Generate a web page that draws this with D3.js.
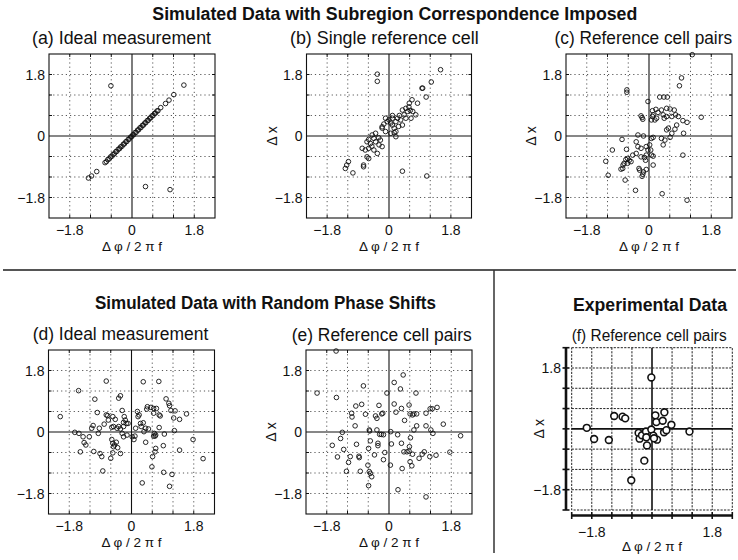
<!DOCTYPE html>
<html><head><meta charset="utf-8">
<script src="https://cdn.jsdelivr.net/npm/d3@7"></script>
<style>body{margin:0;background:#fff}</style>
</head><body>
<svg id="chart" width="738" height="560" xmlns="http://www.w3.org/2000/svg"></svg>
<script>
// ---------------- DATA ----------------
const axisDomain = [-2.4, 2.4];
const gridValues = [-1.8, -1.2, -0.6, 0.6, 1.2, 1.8];
const fTickValues = [-2.4, -1.8, -1.2, -0.6, 0, 0.6, 1.2, 1.8, 2.4];
const tickValues = [-1.8, 0, 1.8];
const tickLabels = ["\u22121.8", "0", "1.8"];

const mainTitle1 = "Simulated Data with Subregion Correspondence Imposed";
const mainTitle2 = "Simulated Data with Random Phase Shifts";
const mainTitle3 = "Experimental Data";
const panelTitles = ["(a) Ideal measurement", "(b) Single reference cell", "(c) Reference cell pairs",
                     "(d) Ideal measurement", "(e) Reference cell pairs", "(f) Reference cell pairs"];
const xAxisLabel = "\u0394 \u03c6 / 2 \u03c0 f";
const yAxisLabel = "\u0394 x";

const dataA = [
  [-0.61,1.47],[1.50,1.49],[0.39,-1.48],[1.10,-1.57],
  [-1.26,-1.23],[-1.17,-1.17],[-1.02,-1.04],[-0.78,-0.78],
  [-0.74,-0.75],[-0.70,-0.69],[-0.66,-0.67],[-0.62,-0.61],[-0.58,-0.59],[-0.55,-0.54],[-0.51,-0.52],
  [-0.47,-0.46],[-0.44,-0.45],[-0.40,-0.39],[-0.36,-0.37],[-0.33,-0.32],[-0.29,-0.30],[-0.25,-0.24],
  [-0.22,-0.23],[-0.18,-0.17],[-0.15,-0.16],[-0.11,-0.10],[-0.08,-0.09],[-0.04,-0.03],[-0.01,-0.02],
  [0.02,0.03],[0.05,0.04],[0.09,0.10],[0.12,0.11],[0.16,0.17],[0.19,0.18],[0.23,0.24],[0.26,0.25],
  [0.30,0.31],[0.33,0.32],[0.37,0.38],[0.40,0.39],[0.44,0.45],[0.47,0.46],[0.51,0.52],[0.54,0.53],
  [0.58,0.59],[0.61,0.60],[0.65,0.66],[0.68,0.67],[0.72,0.73],[0.75,0.74],
  [0.83,0.83],[0.97,0.95],[1.07,1.05],[1.21,1.21]
];
const dataB = [
  [-0.34,1.81],[-0.34,1.60],[1.50,1.94],[1.23,1.58],[0.96,1.40],[0.98,1.40],[1.08,1.14],[0.83,0.96],
  [0.67,1.06],[0.59,0.96],[0.49,0.81],[0.39,0.76],[0.54,0.72],[0.44,0.62],[0.69,0.72],[0.78,0.62],
  [0.64,0.52],[0.49,0.52],[0.34,0.47],[0.25,0.52],[0.39,0.32],[0.20,0.42],[0.10,0.52],[0.10,0.32],
  [0.15,0.23],[0.00,0.47],[-0.10,0.52],[-0.05,0.42],[-0.20,0.27],[-0.20,0.23],[-0.10,0.13],[0.05,0.08],
  [0.20,0.13],[0.20,-0.02],[-0.39,0.08],[-0.49,0.03],[-0.44,-0.07],[-0.59,-0.10],[-0.64,-0.17],
  [-0.54,-0.22],[-0.39,-0.17],[-0.25,-0.12],[-0.29,-0.26],[-0.20,-0.31],[-0.34,-0.51],[-0.44,-0.41],
  [-0.59,-0.36],[-0.69,-0.41],[-0.64,-0.61],[-0.59,-0.66],[-0.78,-0.36],[-0.74,-0.85],[-0.74,-0.90],
  [-1.18,-0.75],[-1.23,-0.85],[-1.27,-0.95],[-1.05,-1.08],[0.39,-1.03],[1.10,-1.17],
  [-0.15,0.35],[0.05,0.38],[0.30,0.60],[0.58,0.85],[0.15,0.10],[-0.30,-0.05],[0.10,0.60],[0.62,0.75],
  [-0.50,-0.30],[0.28,0.28]
];
const dataC = [
  [1.25,2.38],[0.94,1.70],[0.88,1.47],[-0.64,1.35],[-0.64,1.28],[-0.03,1.01],[0.31,1.14],[0.43,1.14],
  [0.53,1.14],[0.10,0.74],[0.20,0.78],[0.36,0.76],[0.26,0.69],[0.10,0.57],[0.22,0.52],[0.17,0.47],
  [0.07,0.47],[0.12,0.62],[0.51,0.81],[0.61,0.79],[0.73,0.76],[0.51,0.57],[0.44,0.52],[0.66,0.57],
  [0.41,0.62],[0.77,0.62],[-0.23,0.59],[-0.20,0.54],[-0.18,0.49],[0.85,0.57],[0.98,0.45],[1.10,0.40],
  [1.51,0.55],[0.80,0.32],[0.75,0.20],[0.56,0.23],[0.51,0.18],[0.66,0.08],[0.61,-0.04],[0.46,-0.12],
  [0.36,-0.07],[0.12,-0.04],[0.07,-0.07],[1.00,0.08],[-0.32,0.03],[-0.16,0.00],[-0.78,-0.10],
  [-0.37,-0.17],[-0.23,-0.36],[-0.32,-0.31],[-0.08,-0.31],[0.02,-0.26],[-0.03,-0.41],[0.05,-0.41],
  [0.12,-0.59],[0.07,-0.56],[-0.08,-0.56],[-0.23,-0.61],[-0.13,-0.63],[-0.10,-0.71],[0.12,-0.85],
  [0.41,-0.26],[-0.65,-0.39],[-0.37,-0.51],[-0.47,-0.56],[-0.57,-0.71],[-0.67,-0.69],[-0.72,-0.80],
  [-0.75,-0.85],[-0.76,-0.95],[-0.81,-0.97],[-0.62,-0.66],[-0.52,-0.75],[-0.62,-0.80],[-1.06,-0.41],
  [-1.25,-0.74],[-1.18,-1.15],[-0.69,-1.29],[-0.27,-1.00],[-0.18,-1.12],[-0.20,-1.18],[-0.16,-1.05],
  [-0.29,-0.95],[-0.08,-0.98],[0.98,-0.56],[-0.39,-1.59],[0.38,-1.69],[1.10,-1.88]
];
const dataD = [
  [-2.06,0.45],[-1.64,-0.01],[-1.52,-0.04],[-1.40,-0.14],[-1.22,-0.14],[-1.37,-0.31],[-1.32,-0.38],
  [-1.48,-0.58],[-1.53,1.21],[-1.06,0.96],[-0.99,0.57],[-1.15,0.11],[-1.11,0.19],[-0.93,0.11],
  [-0.96,-0.04],[-0.79,0.23],[-0.73,0.50],[-0.69,0.48],[-0.67,0.35],[-0.73,1.49],[-0.37,0.99],
  [-0.32,1.06],[-0.27,0.63],[-0.54,0.45],[-0.47,0.37],[-0.52,0.16],[-0.57,0.14],[-0.42,0.11],
  [-0.37,0.16],[-0.32,0.09],[-0.23,0.28],[-0.21,0.45],[-0.18,0.35],[-0.15,0.25],[-0.10,0.25],
  [-0.23,0.16],[-1.09,-0.57],[-0.91,-0.63],[-0.86,-0.72],[-0.60,-0.77],[-0.54,-0.61],[-0.54,-0.33],
  [-0.52,-0.43],[-0.57,-0.22],[-0.40,-0.46],[-0.49,-0.38],[-0.44,-0.30],[-0.32,-0.63],[-0.83,-1.14],
  [-0.13,-0.09],[-0.23,-0.14],[-0.27,-0.04],[0.02,-0.14],[0.07,-0.22],[0.10,-0.12],[0.12,0.11],
  [0.17,0.60],[0.19,0.45],[0.22,0.50],[0.26,0.25],[0.28,0.16],[0.34,0.27],[0.41,0.11],[0.36,0.01],
  [0.46,0.74],[0.56,0.72],[0.44,0.67],[0.64,0.69],[0.72,0.69],[0.64,0.55],[0.80,0.50],[0.83,0.47],
  [0.41,-0.30],[0.49,0.09],[0.34,1.47],[0.79,1.48],[1.00,0.97],[1.08,0.84],[1.10,0.77],[1.14,0.63],
  [1.26,0.62],[1.22,0.41],[1.39,0.37],[1.59,0.53],[1.24,0.04],[0.95,-0.06],[0.80,0.13],[0.66,-0.04],
  [0.70,-0.09],[0.68,-0.12],[0.64,-0.12],[0.70,-0.48],[0.68,-0.58],[0.61,-0.72],[0.59,-1.02],
  [0.92,-0.40],[1.39,-0.53],[1.78,-0.22],[2.07,-0.78],[0.93,-1.18],[1.17,-1.24],[1.10,-1.59],[0.31,-1.49]
];
const dataE = [
  [-1.53,2.37],[-2.08,1.14],[-1.52,1.01],[-0.74,1.35],[-0.96,0.76],[-0.79,0.81],[-1.08,0.55],
  [-1.07,0.44],[-0.68,0.52],[-0.39,0.47],[-0.35,0.40],[-0.29,0.78],[-0.18,0.55],[-0.21,0.53],
  [-0.06,1.14],[0.15,1.45],[0.41,1.67],[0.33,1.26],[0.78,1.14],[0.15,0.82],[0.20,0.58],[0.36,0.69],
  [0.58,0.79],[0.61,0.53],[0.72,0.53],[0.80,0.53],[0.68,0.50],[0.45,0.34],[0.80,0.18],[0.72,0.06],
  [1.07,0.55],[1.19,0.68],[1.25,0.68],[1.39,0.72],[1.07,0.18],[1.21,0.06],[1.27,-0.04],[1.57,0.23],
  [-0.98,0.18],[-1.35,-0.01],[-1.40,-0.19],[-1.64,-0.39],[-1.31,-0.51],[-1.49,-0.73],[-1.12,-0.72],
  [-1.17,-0.89],[-0.87,-0.71],[-0.86,-0.75],[-1.23,-1.15],[-0.83,-1.15],[-0.94,-0.36],[-0.57,0.06],
  [-0.56,0.03],[-0.35,0.06],[-0.27,-0.07],[-0.22,-0.07],[-0.16,-0.08],[-0.54,-0.26],[-0.59,-0.48],
  [-0.32,-0.33],[-0.32,-0.40],[-0.42,-0.67],[-0.16,-0.81],[-0.12,-0.60],[-0.61,-0.97],[-0.57,-1.16],
  [-0.54,-1.21],[-0.50,-1.31],[-0.59,-1.57],[0.05,0.01],[0.07,-0.35],[0.04,-0.97],[0.25,-0.08],
  [0.36,-0.33],[0.38,-1.07],[0.43,-0.58],[0.52,-0.58],[0.59,-0.43],[0.62,-0.17],[0.58,-0.56],
  [0.68,-0.65],[0.61,-0.87],[0.66,-0.99],[0.87,-0.77],[0.96,-0.65],[1.02,-0.58],[1.18,-0.72],
  [1.36,-0.68],[1.76,-0.59],[2.07,-0.11],[0.26,-1.69],[1.07,-1.90]
];
const dataF = [
  [-0.02,1.52],[-1.95,0.03],[-1.73,-0.30],[-1.29,-0.33],[-1.13,0.38],[-0.88,0.36],[-0.80,0.31],
  [-0.40,-0.12],[-0.37,-0.29],[-0.30,-0.19],[-0.18,-0.08],[-0.17,-0.25],[-0.15,-0.49],[-0.23,-0.94],
  [-0.62,-1.52],[-0.02,-0.02],[0.04,-0.20],[0.10,0.40],[0.13,0.20],[0.15,-0.32],[0.06,-0.28],
  [0.32,0.24],[0.37,0.49],[0.36,-0.10],[0.43,-0.04],[0.58,0.12],[1.12,-0.08]
];

// ---------------- DRAW ----------------
const svg = d3.select('#chart');
const FONT = '"Liberation Sans", Arial, Helvetica, sans-serif';

function addText(x, y, str, size, weight, width, anchor) {
  const t = svg.append('text')
    .attr('x', x).attr('y', y)
    .attr('font-family', FONT).attr('font-size', size)
    .attr('font-weight', weight || 'normal')
    .attr('text-anchor', anchor || 'middle')
    .attr('fill', '#111')
    .text(str);
  if (width) t.attr('textLength', width).attr('lengthAdjust', 'spacingAndGlyphs');
  return t;
}

// Titles
addText(394.8, 20, mainTitle1, 17.5, 'bold', 485);
addText(265.5, 309, mainTitle2, 17.5, 'bold', 341);
addText(650, 311, mainTitle3, 17.5, 'bold', 154);

// Dividers
svg.append('line').attr('x1', 3).attr('x2', 736).attr('y1', 270).attr('y2', 270)
  .attr('stroke', '#555').attr('stroke-width', 2);
svg.append('line').attr('x1', 494).attr('x2', 494).attr('y1', 270).attr('y2', 553)
  .attr('stroke', '#333').attr('stroke-width', 1.5);

const panels = [
  {data: dataA, left: 49,    top: 54,  w: 166, h: 164, title: panelTitles[0], tx: 121.5, ty: 44,  tw: 179, ylab: false},
  {data: dataB, left: 306.5, top: 54,  w: 165, h: 164, title: panelTitles[1], tx: 384.3, ty: 44,  tw: 188.7, ylab: true},
  {data: dataC, left: 566,   top: 54,  w: 166, h: 164, title: panelTitles[2], tx: 643.3, ty: 44,  tw: 177.5, ylab: true},
  {data: dataD, left: 48.5,  top: 350, w: 166, h: 164, title: panelTitles[3], tx: 120.5, ty: 340, tw: 175.6, ylab: false},
  {data: dataE, left: 306,   top: 350, w: 166, h: 164, title: panelTitles[4], tx: 381.7, ty: 340.5, tw: 180, ylab: true}
];

panels.forEach(p => {
  const x = d3.scaleLinear().domain(axisDomain).range([p.left, p.left + p.w]);
  const y = d3.scaleLinear().domain(axisDomain).range([p.top + p.h, p.top]);
  const g = svg.append('g');
  const grid = g.append('g').attr('stroke', '#444').attr('stroke-width', 0.9).attr('stroke-dasharray', '1.2,3');
  grid.selectAll('.gx').data(gridValues).join('line')
    .attr('x1', d => x(d)).attr('x2', d => x(d)).attr('y1', p.top).attr('y2', p.top + p.h);
  grid.selectAll('.gy').data(gridValues).join('line')
    .attr('y1', d => y(d)).attr('y2', d => y(d)).attr('x1', p.left).attr('x2', p.left + p.w);
  const tk = g.append('g').attr('stroke', '#111').attr('stroke-width', 1);
  gridValues.forEach(v => {
    tk.append('line').attr('x1', x(v)).attr('x2', x(v)).attr('y1', p.top).attr('y2', p.top + 3);
    tk.append('line').attr('x1', x(v)).attr('x2', x(v)).attr('y1', p.top + p.h).attr('y2', p.top + p.h - 3);
    tk.append('line').attr('y1', y(v)).attr('y2', y(v)).attr('x1', p.left).attr('x2', p.left + 3);
    tk.append('line').attr('y1', y(v)).attr('y2', y(v)).attr('x1', p.left + p.w).attr('x2', p.left + p.w - 3);
  });
  g.append('line').attr('x1', x(0)).attr('x2', x(0)).attr('y1', p.top).attr('y2', p.top + p.h)
    .attr('stroke', '#111').attr('stroke-width', 1.1);
  g.append('line').attr('y1', y(0)).attr('y2', y(0)).attr('x1', p.left).attr('x2', p.left + p.w)
    .attr('stroke', '#111').attr('stroke-width', 1.1);
  g.append('rect').attr('x', p.left).attr('y', p.top).attr('width', p.w).attr('height', p.h)
    .attr('fill', 'none').attr('stroke', '#111').attr('stroke-width', 1.1);
  g.append('g').selectAll('circle').data(p.data).join('circle')
    .attr('cx', d => x(d[0])).attr('cy', d => y(d[1])).attr('r', 2.3)
    .attr('fill', 'none').attr('stroke', '#111').attr('stroke-width', 0.9);
  tickValues.forEach((v, i) => {
    addText(x(v), p.top + p.h + 17, tickLabels[i], 14);
    addText(p.left - 4, y(v) + 5, tickLabels[i], 14, 'normal', null, 'end');
  });
  addText(p.left + p.w / 2, p.top + p.h + 32.5, xAxisLabel, 13.5);
  if (p.ylab) {
    addText(0, 5, yAxisLabel, 14).attr('transform', `translate(${p.left - 35},${p.top + p.h / 2}) rotate(-90)`);
  }
  addText(p.tx, p.ty, p.title, 17.5, 'normal', p.tw);
});

// Panel f
(function () {
  const p = {left: 571.7, top: 347.7, w: 160.6, h: 162.3};
  const x = d3.scaleLinear().domain(axisDomain).range([p.left, p.left + p.w]);
  const y = d3.scaleLinear().domain(axisDomain).range([p.top + p.h, p.top]);
  const g = svg.append('g');
  const grid = g.append('g').attr('stroke', '#222').attr('stroke-width', 1).attr('stroke-dasharray', '2.2,1.3');
  grid.selectAll('.gx').data(gridValues).join('line')
    .attr('x1', d => x(d)).attr('x2', d => x(d)).attr('y1', p.top).attr('y2', p.top + p.h);
  grid.selectAll('.gy').data(gridValues).join('line')
    .attr('y1', d => y(d)).attr('y2', d => y(d)).attr('x1', p.left).attr('x2', p.left + p.w);
  grid.append('rect').attr('x', p.left).attr('y', p.top).attr('width', p.w).attr('height', p.h).attr('fill', 'none');
  g.append('line').attr('x1', x(0)).attr('x2', x(0)).attr('y1', p.top).attr('y2', p.top + p.h)
    .attr('stroke', '#111').attr('stroke-width', 1.6);
  g.append('line').attr('y1', y(0)).attr('y2', y(0)).attr('x1', p.left).attr('x2', p.left + p.w)
    .attr('stroke', '#111').attr('stroke-width', 1.6);
  // thick axes
  const axX = 566, axY = 515.5;
  g.append('line').attr('x1', axX).attr('x2', axX).attr('y1', y(2.4)).attr('y2', y(-2.4))
    .attr('stroke', '#111').attr('stroke-width', 2.6);
  g.append('line').attr('y1', axY).attr('y2', axY).attr('x1', x(-2.4)).attr('x2', x(2.4))
    .attr('stroke', '#111').attr('stroke-width', 2.6);
  fTickValues.forEach(v => {
    g.append('line').attr('x1', axX - 3.5).attr('x2', axX + 3.5).attr('y1', y(v)).attr('y2', y(v))
      .attr('stroke', '#111').attr('stroke-width', 1.6);
    g.append('line').attr('y1', axY - 3.5).attr('y2', axY + 3.5).attr('x1', x(v)).attr('x2', x(v))
      .attr('stroke', '#111').attr('stroke-width', 1.6);
  });
  g.append('g').selectAll('circle').data(dataF).join('circle')
    .attr('cx', d => x(d[0])).attr('cy', d => y(d[1])).attr('r', 3.4)
    .attr('fill', '#fff').attr('stroke', '#111').attr('stroke-width', 1.6);
  [0, 2].forEach(i => {
    addText(x(tickValues[i]), 537, tickLabels[i], 14);
    addText(561, y(tickValues[i]) + 5, tickLabels[i], 14, 'normal', null, 'end');
  });
  addText(x(0), 551, xAxisLabel, 13.5);
  addText(0, 5, yAxisLabel, 14).attr('transform', `translate(539.3,${y(0)}) rotate(-90)`);
  addText(649.2, 340.5, panelTitles[5], 16, 'normal', 155);
})();
</script>
</body></html>
